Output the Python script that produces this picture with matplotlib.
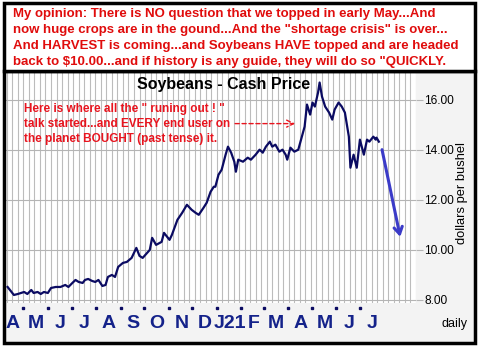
import numpy as np
import pandas as pd
import matplotlib
matplotlib.use("Agg")
import matplotlib.pyplot as plt
import matplotlib.dates as mdates
import matplotlib.transforms as mtransforms
from matplotlib.patches import Rectangle

plt.rcParams['font.family'] = ['Liberation Sans', 'DejaVu Sans']

# soybean cash price
dates = ["2020-04-11", "2020-04-14", "2020-04-19", "2020-04-24", "2020-05-02", "2020-05-06",
         "2020-05-11", "2020-05-14", "2020-05-19", "2020-05-23", "2020-05-27", "2020-06-01",
         "2020-06-05", "2020-06-11", "2020-06-17", "2020-06-23", "2020-06-27", "2020-07-02",
         "2020-07-06", "2020-07-10", "2020-07-15", "2020-07-18", "2020-07-22", "2020-07-27",
         "2020-07-31", "2020-08-04", "2020-08-09", "2020-08-13", "2020-08-16", "2020-08-21",
         "2020-08-25", "2020-08-29", "2020-09-04", "2020-09-09", "2020-09-15", "2020-09-21",
         "2020-09-25", "2020-09-29", "2020-10-08", "2020-10-11", "2020-10-16", "2020-10-23",
         "2020-10-26", "2020-11-02", "2020-11-05", "2020-11-12", "2020-11-18", "2020-11-24",
         "2020-11-30", "2020-12-05", "2020-12-09", "2020-12-15", "2020-12-19", "2020-12-24",
         "2020-12-28", "2020-12-30", "2021-01-03", "2021-01-07", "2021-01-12", "2021-01-15",
         "2021-01-19", "2021-01-23", "2021-01-25", "2021-01-28", "2021-02-03", "2021-02-09",
         "2021-02-13", "2021-02-19", "2021-02-24", "2021-02-28", "2021-03-04", "2021-03-09",
         "2021-03-12", "2021-03-16", "2021-03-21", "2021-03-25", "2021-03-29", "2021-03-31",
         "2021-04-04", "2021-04-09", "2021-04-14", "2021-04-22", "2021-04-25", "2021-04-29",
         "2021-05-02", "2021-05-05", "2021-05-09", "2021-05-11", "2021-05-14", "2021-05-18",
         "2021-05-23", "2021-05-27", "2021-05-30", "2021-06-04", "2021-06-08", "2021-06-12",
         "2021-06-17", "2021-06-19", "2021-06-23", "2021-06-27", "2021-07-01", "2021-07-06",
         "2021-07-10", "2021-07-13", "2021-07-18", "2021-07-21", "2021-07-22", "2021-07-25"]
prices = [8.52, 8.40, 8.20, 8.24, 8.32, 8.24,
          8.40, 8.28, 8.32, 8.24, 8.32, 8.28,
          8.48, 8.52, 8.52, 8.60, 8.52, 8.68,
          8.80, 8.72, 8.68, 8.80, 8.84, 8.76,
          8.72, 8.80, 8.56, 8.60, 8.92, 9.00,
          8.92, 9.32, 9.48, 9.52, 9.68, 10.08,
          9.76, 9.68, 10.00, 10.48, 10.20, 10.32,
          10.68, 10.40, 10.60, 11.20, 11.48, 11.80,
          11.60, 11.48, 11.40, 11.68, 11.88, 12.32,
          12.52, 12.52, 13.00, 13.20, 13.80, 14.12,
          13.88, 13.52, 13.12, 13.60, 13.52, 13.68,
          13.60, 13.80, 14.00, 13.88, 14.12, 14.32,
          14.12, 14.20, 13.92, 14.00, 13.80, 13.60,
          14.08, 13.92, 14.00, 14.92, 15.80, 15.40,
          15.88, 15.72, 16.28, 16.68, 16.12, 15.72,
          15.48, 15.20, 15.60, 15.88, 15.72, 15.48,
          14.52, 13.28, 13.80, 13.28, 14.40, 13.80,
          14.40, 14.32, 14.52, 14.40, 14.48, 14.32]

month_starts = pd.date_range("2020-05-01", "2021-07-01", freq="MS")
month_labels = ["A", "M", "J", "J", "A", "S", "O", "N", "D", "J21", "F", "M", "A", "M", "J", "J"]
label_dates = pd.date_range("2020-04-01", "2021-07-01", freq="MS") + pd.Timedelta(days=16)

price_ticks = [8, 10, 12, 14, 16]

forecast_start = (pd.Timestamp("2021-07-29"), 14.0)
forecast_end = (pd.Timestamp("2021-08-21"), 10.52)
pointer_start = (pd.Timestamp("2021-01-24"), 15.04)
pointer_end = (pd.Timestamp("2021-04-10"), 15.04)

opinion = ["My opinion: There is NO question that we topped in early May...And",
           "now huge crops are in the gound...And the \"shortage crisis\" is over...",
           "And HARVEST is coming...and Soybeans HAVE topped and are headed",
           "back to $10.00...and if history is any guide, they will do so \"QUICKLY."]
note = ["Here is where all the \" runing out ! \"",
        "talk started...and EVERY end user on",
        "the planet BOUGHT (past tense) it."]

W, H = 483, 348
fig = plt.figure(figsize=(W / 100, H / 100), dpi=100, facecolor="white")

def fx(x):
    return x / W

def fy(y):
    return 1 - y / H

# chart background and frames
fig.patches.append(Rectangle((fx(4), fy(343)), fx(471), (343 - 71) / H, transform=fig.transFigure,
                             facecolor="#f3f3f3", edgecolor="none", zorder=0))
fig.patches.append(Rectangle((fx(4), fy(343)), fx(471), (343 - 71) / H, transform=fig.transFigure,
                             facecolor="none", edgecolor="black", lw=2.5, zorder=5))
fig.patches.append(Rectangle((fx(4), fy(71)), fx(471), (71 - 3) / H, transform=fig.transFigure,
                             facecolor="white", edgecolor="black", lw=2.5, zorder=5))

ax = fig.add_axes([fx(6), fy(303), fx(416 - 6), (303 - 72) / H], zorder=2)
ax.set_facecolor("white")

d = pd.to_datetime(dates)
ax.plot(d, prices, color="#0b0b62", lw=1.6, zorder=3)

ax.set_xlim(pd.Timestamp("2020-04-09"), pd.Timestamp("2021-09-10"))
ax.set_ylim(7.88, 17.1)

ax.xaxis.set_major_locator(mdates.WeekdayLocator(byweekday=mdates.FR))
ax.grid(axis="x", color="#bcbcbc", lw=0.8)
ax.set_yticks(price_ticks)
ax.grid(axis="y", color="#b4b4b4", lw=0.8)
ax.tick_params(axis="x", length=0, labelbottom=False)
ax.yaxis.tick_right()
ax.tick_params(axis="y", length=5, color="#b4b4b4", pad=1, labelsize=8.6)
ax.set_yticklabels(["%.2f" % v for v in price_ticks])
for s in ax.spines.values():
    s.set_visible(False)

# month dots and labels below the plot
trans = mtransforms.blended_transform_factory(ax.transData, ax.transAxes)
ax.plot(month_starts, np.full(len(month_starts), -0.022), "s", ms=1.6, color="#0b0b62",
        transform=trans, clip_on=False)
for dt, lab in zip(label_dates, month_labels):
    ax.text(dt, -0.09, lab, transform=trans, ha="center", va="center", fontsize=14,
            fontweight="bold", color="#14228a")
fig.text(fx(455), fy(324), "daily", ha="center", va="center", fontsize=9)
fig.text(fx(462), fy(193), "dollars per bushel", rotation=90, ha="center", va="center", fontsize=9.3)

ax.text(0.53, 1 - (85 - 72) / 231, "Soybeans - Cash Price", transform=ax.transAxes,
        fontsize=11.5, fontweight="bold", ha="center", va="center", zorder=6)

# forecast arrow
ax.annotate("", xy=forecast_end, xytext=forecast_start,
            arrowprops=dict(arrowstyle="->,head_length=0.5,head_width=0.3", color="#3b3bc8",
                            lw=2.2, shrinkA=0, shrinkB=0))

# dashed red pointer
ax.annotate("", xy=pointer_end, xytext=pointer_start,
            arrowprops=dict(arrowstyle="->,head_length=0.5,head_width=0.25", color="#e8141e",
                            lw=1.0, linestyle=(0, (3, 2)), shrinkA=0, shrinkB=0))

for i, line in enumerate(opinion):
    fig.text(fx(13), fy(14 + 16 * i), line, color="#e00c0c", fontsize=9.5, fontweight="bold",
             ha="left", va="center", zorder=6)
for i, line in enumerate(note):
    ax.text(0.044, 1 - (109 + 15 * i - 72) / 231, line, transform=ax.transAxes, color="#e8141e",
            fontsize=8.5, fontweight="bold", ha="left", va="center", zorder=6)

fig.savefig("out.png", dpi=100, facecolor=fig.get_facecolor())
